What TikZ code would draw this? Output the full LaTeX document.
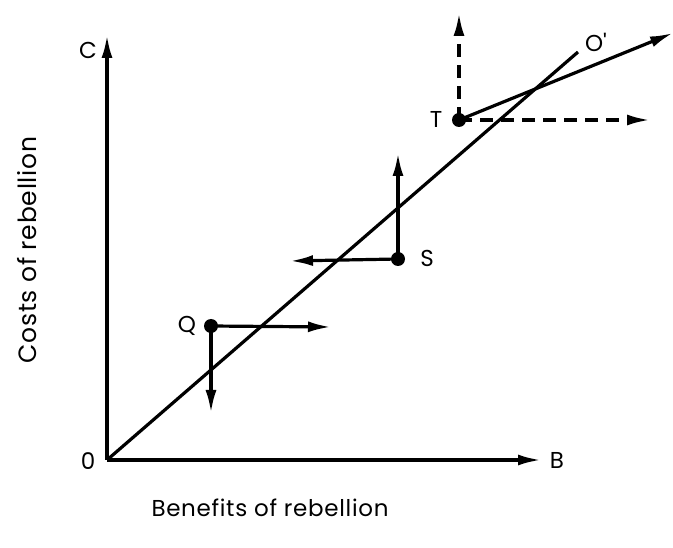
\documentclass[tikz,border=0pt]{standalone}
\usepackage{fontspec}
\setmainfont{Poppins}[LetterSpace=3]
\usetikzlibrary{arrows.meta}
\begin{document}
\begin{tikzpicture}[x=1pt,y=-1pt,
  ln/.style={line width=3.2pt},
  arr/.style={ln,-{Latex[length=23pt,width=11pt]}},
  darr/.style={arr,dash pattern=on 13pt off 8pt},
  dot/.style={circle,fill=black,inner sep=0pt,minimum size=14pt},
  lab/.style={font=\fontsize{23}{27}\selectfont}]
\useasboundingbox (0,0) rectangle (673,548);
\coordinate (O) at (107,460);
\coordinate (Ctop) at (107,35);
\coordinate (Bend) at (541,460);
\coordinate (Oend) at (578,52);
\node[dot] (T) at (459,120) {};
\node[dot] (S) at (398,259) {};
\node[dot] (Q) at (211,326) {};
\coordinate (Tup) at (459,13);
\coordinate (Tright) at (650,120);
\coordinate (Tdiag) at (673,33);
\coordinate (Sup) at (398,153);
\coordinate (Sleft) at (290,261);
\coordinate (Qright) at (331,327);
\coordinate (Qdown) at (211,413);
\draw[arr] (O) -- (Ctop);
\draw[arr] (O) -- (Bend);
\draw[ln] (O) -- (Oend);
\draw[darr] (T.center) -- (Tup);
\draw[darr] (T.center) -- (Tright);
\draw[arr] (T.center) -- (Tdiag);
\draw[arr] (S.center) -- (Sup);
\draw[arr] (S.center) -- (Sleft);
\draw[arr] (Q.center) -- (Qright);
\draw[arr] (Q.center) -- (Qdown);
\node[lab] (lC) at (88,50) {C};
\node[lab] (l0) at (88,461) {0};
\node[lab] (lB) at (557,460) {B};
\node[lab] (lO) at (596,42) {O\textquotesingle};
\node[lab] (lT) at (436,119) {T};
\node[lab] (lS) at (427,258) {S};
\node[lab] (lQ) at (187,326) {Q};
\node[lab,rotate=90,font=\fontsize{25}{29}\selectfont] (ly) at (27,250) {Costs of rebellion};
\node[lab] (lx) at (270,508) {Benefits of rebellion};
\end{tikzpicture}
\end{document}
